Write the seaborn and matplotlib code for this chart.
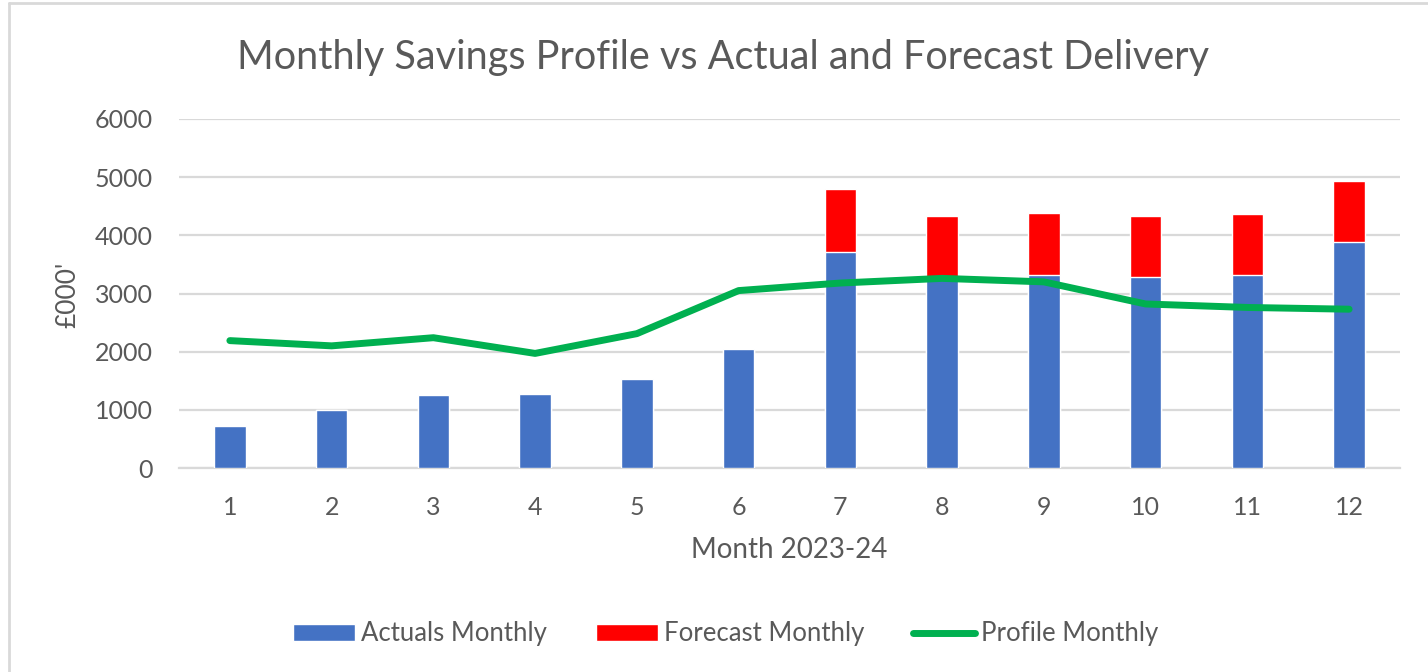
import matplotlib
matplotlib.use("Agg")
import matplotlib.pyplot as plt
from matplotlib.patches import Patch
from matplotlib.lines import Line2D
import seaborn as sns
import pandas as pd

months = [1, 2, 3, 4, 5, 6, 7, 8, 9, 10, 11, 12]
actuals = [730, 990, 1250, 1270, 1530, 2040, 3720, 3290, 3310, 3280, 3310, 3880]
forecast = [0, 0, 0, 0, 0, 0, 1080, 1050, 1080, 1055, 1060, 1060]
profile = [2190, 2100, 2240, 1970, 2310, 3050, 3180, 3260, 3200, 2820, 2760, 2730]

blue = "#4472C4"
red = "#FF0000"
green = "#00B050"
grey_txt = "#595959"
grid_c = "#D9D9D9"

data = pd.DataFrame({"month": months, "actuals": actuals,
                     "forecast": forecast, "profile": profile})
data["total"] = data["actuals"] + data["forecast"]

sns.set_style("white")
plt.rcParams["font.family"] = ["Lato", "DejaVu Sans"]

fig = plt.figure(figsize=(14.28, 6.72), dpi=100)
ax = fig.add_axes([179 / 1428, 1 - 468 / 672, 1221 / 1428, 349 / 672])

# stacked bars: total first, then actuals over it
sns.barplot(data=data, x="month", y="total", color=red, saturation=1,
            width=0.31, ax=ax, errorbar=None, zorder=2)
sns.barplot(data=data, x="month", y="actuals", color=blue, saturation=1,
            width=0.31, ax=ax, errorbar=None, zorder=3)
sns.pointplot(data=data, x="month", y="profile", color=green, markers="",
              errorbar=None, ax=ax, lw=5, zorder=4)
for ln in ax.lines:
    ln.set_solid_capstyle("round")
    ln.set_solid_joinstyle("round")
    ln.set_linewidth(5)

ax.set_ylim(0, 6000)
ax.set_xlim(-0.5, 11.5)
ax.set_yticks(range(0, 6001, 1000))
ax.yaxis.grid(True, color=grid_c, lw=1.6)
ax.set_axisbelow(True)
for s in ["top", "right", "left"]:
    ax.spines[s].set_visible(False)
ax.spines["bottom"].set_color(grid_c)
ax.spines["bottom"].set_linewidth(1.6)
ax.tick_params(axis="both", length=0, labelsize=18, labelcolor=grey_txt)
ax.tick_params(axis="y", pad=19)
ax.tick_params(axis="x", pad=20)
ax.set_xlabel("")
ax.set_ylabel("")

fig.text(723 / 1428, 1 - 57 / 672, "Monthly Savings Profile vs Actual and Forecast Delivery",
         ha="center", va="center", fontsize=28.5, color=grey_txt)
fig.text(789 / 1428, 1 - 550 / 672, "Month 2023-24", ha="center", va="center",
         fontsize=20, color=grey_txt)
fig.text(68 / 1428, 1 - 295 / 672, "£000'", ha="center", va="center",
         rotation=90, fontsize=19, color=grey_txt)

handles = [Patch(facecolor=blue), Patch(facecolor=red),
           Line2D([0], [0], color=green, lw=5, solid_capstyle="round")]
labels = ["Actuals Monthly", "Forecast Monthly", "Profile Monthly"]
leg = fig.legend(handles, labels, loc="center", ncol=3, frameon=False,
                 bbox_to_anchor=(726 / 1428, 1 - 634 / 672), fontsize=18.5,
                 handlelength=2.4, handleheight=0.65, handletextpad=0.25,
                 columnspacing=1.9)
for t in leg.get_texts():
    t.set_color(grey_txt)

# chart frame
fig.add_artist(Line2D([9 / 1428, 1], [1 - 3 / 672, 1 - 3 / 672],
                      transform=fig.transFigure, color=grid_c, lw=2))
fig.add_artist(Line2D([9 / 1428, 9 / 1428], [0, 1 - 3 / 672],
                      transform=fig.transFigure, color=grid_c, lw=2))

fig.savefig("out.png", dpi=100, facecolor="white")
